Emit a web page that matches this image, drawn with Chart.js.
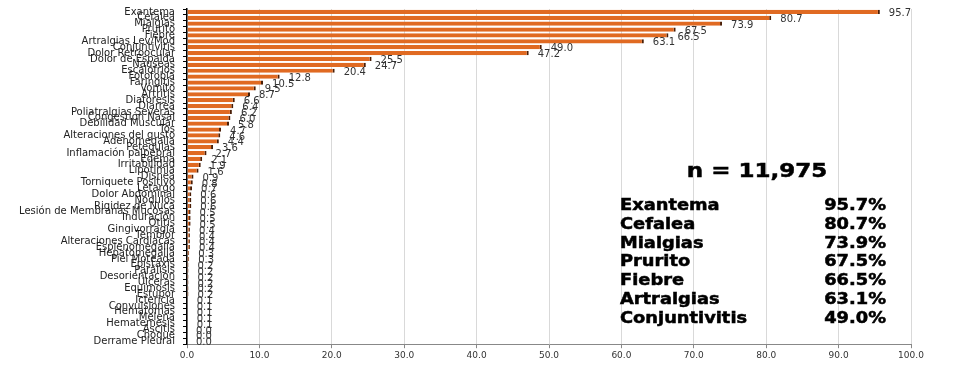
<!DOCTYPE html>
<html>
<head>
<meta charset="utf-8">
<script src="https://cdn.jsdelivr.net/npm/chart.js@4"></script>
<style>
html,body{margin:0;padding:0;background:#fff;}
#wrap{width:971px;height:368px;}
</style>
</head>
<body>
<div id="wrap"><canvas id="c" width="971" height="368"></canvas></div>
<script>
const categories = ["Exantema","Cefalea","Mialgias","Prurito","Fiebre","Artralgias Lev/Mod","Conjuntivitis","Dolor Retroocular","Dolor de Espalda","Náuseas","Escalofríos","Fotofobia","Faringitis","Vómito","Artritis","Diaforesis","Diarrea","Poliatralgias Severas","Congestión Nasal","Debilidad Muscular","Tos","Alteraciones del gusto","Adenomegalia","Petequias","Inflamación palpebral","Edema","Irritabilidad","Lipotimia","Disnea","Torniquete Positivo","Letargo","Dolor Abdominal","Nódulos","Rigidez de Nuca","Lesión de Membranas Mucosas","Induración","Otitis","Gingivorragia","Temblor","Alteraciones Cardiacas","Esplenomegalia","Hepatomegalia","Piel Moteada","Epistaxis","Parálisis","Desorientación","Úlceras","Equimosis","Estupor","Ictericia","Convulsiones","Hematomas","Melena","Hematemesis","Ascitis","Choque","Derrame Pleural"];
const values = [95.7,80.7,73.9,67.5,66.5,63.1,49.0,47.2,25.5,24.7,20.4,12.8,10.5,9.5,8.7,6.6,6.4,6.2,6.0,5.8,4.7,4.6,4.4,3.6,2.7,2.1,1.9,1.6,0.9,0.8,0.7,0.6,0.6,0.6,0.5,0.5,0.5,0.4,0.4,0.4,0.4,0.3,0.3,0.2,0.2,0.2,0.2,0.2,0.2,0.1,0.1,0.1,0.1,0.1,0.0,0.0,0.0];
const xTicks = [0,10,20,30,40,50,60,70,80,90,100];
const sampleLabel = "n = 11,975";
const topNames = ["Exantema","Cefalea","Mialgias","Prurito","Fiebre","Artralgias","Conjuntivitis"];
const topValues = ["95.7%","80.7%","73.9%","67.5%","66.5%","63.1%","49.0%"];

const valueLabels = {
  id:'valueLabels',
  afterDatasetsDraw(chart){
    const ctx = chart.ctx;
    const meta = chart.getDatasetMeta(0);
    ctx.save();
    ctx.font = '10px "DejaVu Sans"';
    ctx.fillStyle = '#333';
    ctx.textAlign = 'left';
    ctx.textBaseline = 'middle';
    meta.data.forEach((bar,i)=>{
      ctx.fillText(values[i].toFixed(1), bar.x + 9, bar.y + 1.5);
    });
    ctx.restore();
  }
};
function stretchText(ctx, txt, x, y, align){
  ctx.save();
  ctx.translate(x, y);
  ctx.scale(1.15, 1);
  ctx.textAlign = align;
  ctx.lineWidth = 0.5;
  ctx.strokeStyle = '#000';
  ctx.fillText(txt, 0, 0);
  ctx.strokeText(txt, 0, 0);
  ctx.restore();
}
const textBox = {
  id:'textBox',
  afterDraw(chart){
    const ctx = chart.ctx;
    ctx.save();
    ctx.fillStyle = '#000';
    ctx.textBaseline = 'middle';
    ctx.font = 'bold 20px "DejaVu Sans"';
    stretchText(ctx, sampleLabel, 757, 172, 'center');
    ctx.font = 'bold 15.5px "DejaVu Sans"';
    topNames.forEach((n,i)=>{
      const y = 206 + i*18.8;
      stretchText(ctx, n, 620, y, 'left');
      stretchText(ctx, topValues[i], 886, y, 'right');
    });
    ctx.restore();
  }
};

new Chart(document.getElementById('c'), {
  type:'bar',
  data:{
    labels: categories,
    datasets:[{
      data: values,
      backgroundColor:'#E06A22',
      borderColor:'#4a1e06',
      borderWidth:{left:0,top:0,bottom:0,right:2},
      borderSkipped:false,
      barPercentage:0.72,
      categoryPercentage:1.0
    }]
  },
  options:{
    indexAxis:'y',
    responsive:false,
    animation:false,
    layout:{padding:{left:0,right:60,top:9,bottom:5}},
    plugins:{legend:{display:false},tooltip:{enabled:false}},
    scales:{
      x:{
        min:0,max:100,
        afterBuildTicks(s){ s.ticks = xTicks.map(v=>({value:v})); },
        ticks:{ font:{family:'"DejaVu Sans"',size:9}, color:'#333', padding:2, callback:v=>Number(v).toFixed(1) },
        grid:{ color:'#d9d9d9', tickColor:'#888', tickLength:4, lineWidth:1 },
        border:{ color:'#888', width:1 }
      },
      y:{
        afterFit(s){ s.width = 187; s.paddingTop = 0; s.paddingBottom = 0; },
        ticks:{ autoSkip:false, font:{family:'"DejaVu Sans"',size:10}, color:'#222', padding:8 },
        grid:{ display:true, drawOnChartArea:false, tickColor:'#000', tickLength:4 },
        border:{ color:'#000', width:1.5 }
      }
    }
  },
  plugins:[valueLabels,textBox]
});
</script>
</body>
</html>
